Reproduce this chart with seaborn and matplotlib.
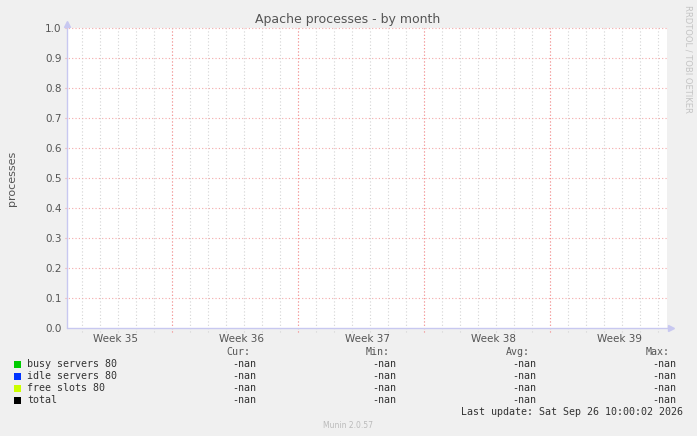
import numpy as np
import pandas as pd
import matplotlib
matplotlib.use("Agg")
import matplotlib.pyplot as plt
import seaborn as sns

# ---- data ----
title = "Apache processes - by month"
ylabel = "processes"
week_labels = ["Week 35", "Week 36", "Week 37", "Week 38", "Week 39"]
series_names = ["busy servers 80", "idle servers 80", "free slots 80", "total"]
series_colors = ["#00CC00", "#0033FF", "#CCFF00", "#000000"]
days = [0.0, 8.0, 16.0, 24.0, 33.3]
busy = [np.nan, np.nan, np.nan, np.nan, np.nan]
idle = [np.nan, np.nan, np.nan, np.nan, np.nan]
free = [np.nan, np.nan, np.nan, np.nan, np.nan]
total = [np.nan, np.nan, np.nan, np.nan, np.nan]
cur_vals = ["-nan", "-nan", "-nan", "-nan"]
min_vals = ["-nan", "-nan", "-nan", "-nan"]
avg_vals = ["-nan", "-nan", "-nan", "-nan"]
max_vals = ["-nan", "-nan", "-nan", "-nan"]
last_update = "Last update: Sat Sep 26 10:00:02 2026"
footer = "Munin 2.0.57"
side_text = "RRDTOOL / TOBI OETIKER"

sns.set_style("white")
plt.rcParams['font.family'] = ['DejaVu Sans']

W, H = 697, 436
fig = plt.figure(figsize=(W / 100, H / 100), dpi=100, facecolor="#F0F0F0")
L, R, T, B = 67, 667, 28, 328
ax = fig.add_axes([L / W, 1 - B / H, (R - L) / W, (B - T) / H])
ax.set_facecolor("white")

df = pd.DataFrame({"day": days * 4,
                   "value": busy + idle + free + total,
                   "series": sum([[n] * len(days) for n in series_names], [])})
sns.lineplot(data=df, x="day", y="value", hue="series",
             palette=dict(zip(series_names, series_colors)), ax=ax, legend=False)

span = (R - L) / 18.0
ax.set_xlim(0, span)
ax.set_ylim(0, 1.0)

# grid
for d in np.arange(0.833, span, 1.0):
    ax.axvline(d, color="#D4D4D4", lw=0.8, ls=(0, (1, 2)), zorder=1, ymin=-0.012, clip_on=False)
for d in np.arange(5.833, span, 7.0):
    ax.axvline(d, color="#FF9090", lw=0.8, ls=(0, (1, 2)), zorder=2, ymin=-0.012, clip_on=False)
for yv in np.arange(0.1, 1.01, 0.1):
    ax.plot([-0.12, span], [yv, yv], color="#F4A8A8", lw=0.8, ls=(0, (1, 2)), zorder=2, clip_on=False)

ax.set_yticks(np.round(np.arange(0, 1.01, 0.1), 1))
ax.set_yticklabels([f"{v:.1f}" for v in np.arange(0, 1.01, 0.1)], fontsize=7.5, color="#555555")
ax.set_xticks([2.72 + 7 * i for i in range(len(week_labels))])
ax.set_xticklabels(week_labels, fontsize=7.5, color="#555555")
ax.tick_params(axis="both", length=0, pad=4)
for s in ax.spines.values():
    s.set_visible(False)

# axis lines with arrows
axc = "#C8C8F0"
ax.plot([0, span + 0.2], [0, 0], color=axc, lw=1, clip_on=False, zorder=3)
ax.plot([0, 0], [0, 1.01], color=axc, lw=1, clip_on=False, zorder=3)
ax.plot([span + 0.2], [0], marker=">", color=axc, ms=4, clip_on=False, zorder=3)
ax.plot([0], [1.015], marker="^", color=axc, ms=4, clip_on=False, zorder=3)

ax.set_xlabel("")
ax.set_ylabel(ylabel, fontsize=8, color="#555555")
ax.yaxis.set_label_coords(-(L - 17) / (R - L), 0.5)

fig.text(348 / W, 1 - 19 / H, title, ha="center", va="center", fontsize=9, color="#555555")
fig.text(688 / W, 1 - 5 / H, side_text, rotation=270, ha="center", va="top", fontsize=6, color="#C4C4C4")

# legend
mono = "DejaVu Sans Mono"
fs = 7.2
rows = [364, 376, 388, 400]
for col_x, head in [(250, "Cur:"), (390, "Min:"), (530, "Avg:"), (670, "Max:")]:
    fig.text(col_x / W, 1 - 352 / H, head, ha="right", va="center", fontsize=fs, family=mono, color="#555555")
for i, (name, col) in enumerate(zip(series_names, series_colors)):
    y = 1 - rows[i] / H
    fig.patches.append(plt.Rectangle((14 / W, y - 3.5 / H), 7 / W, 7 / H, transform=fig.transFigure,
                                     facecolor=col, edgecolor="none"))
    fig.text(27 / W, y, name, ha="left", va="center", fontsize=fs, family=mono, color="#333333")
    for col_x, vals in [(256, cur_vals), (396, min_vals), (536, avg_vals), (676, max_vals)]:
        fig.text(col_x / W, y, vals[i], ha="right", va="center", fontsize=fs, family=mono, color="#333333")
fig.text(683 / W, 1 - 412 / H, last_update, ha="right", va="center", fontsize=fs, family=mono, color="#333333")
fig.text(348 / W, 1 - 425 / H, footer, ha="center", va="center", fontsize=5.5, color="#BBBBBB")

fig.savefig("out.png", dpi=100, facecolor=fig.get_facecolor())
